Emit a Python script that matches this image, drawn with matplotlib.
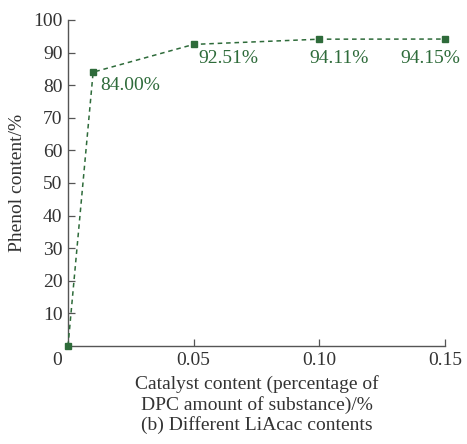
import matplotlib
matplotlib.use("Agg")
import matplotlib.pyplot as plt

catalyst = [0.0, 0.01, 0.05, 0.10, 0.15]
phenol = [0.0, 84.00, 92.51, 94.11, 94.15]
labels = ["", "84.00%", "92.51%", "94.11%", "94.15%"]
label_offsets = [(0, 0), (7, -13), (5, -14), (20, -19), (-15, -19)]
label_ha = ["left", "left", "left", "center", "center"]

green = "#2e6b3a"
textc = "#333333"
plt.rcParams["font.family"] = ["Liberation Serif", "DejaVu Serif"]
fs = 14

fig = plt.figure(figsize=(4.67, 4.44), dpi=100)
ax = fig.add_axes([0.1456, 0.2207, 0.8074, 0.7343])
ax.plot(catalyst, phenol, linestyle=(0, (3, 2.5)), color=green, lw=1.1,
        marker="s", markersize=5, markerfacecolor=green, markeredgecolor=green,
        clip_on=False, zorder=3)
for x, y, t, off, ha in zip(catalyst, phenol, labels, label_offsets, label_ha):
    if t:
        ax.annotate(t, (x, y), xytext=off, textcoords="offset pixels",
                    ha=ha, va="center", fontsize=fs, color=green)

ax.set_xlim(0, 0.15)
ax.set_ylim(0, 100)
ax.set_xticks([0.05, 0.10, 0.15])
ax.set_xticklabels(["0.05", "0.10", "0.15"])
ax.set_yticks(range(10, 101, 10))
ax.tick_params(direction="in", length=5, width=0.9, colors="#555555",
               labelcolor=textc, labelsize=fs, pad=4)
for s in ["top", "right"]:
    ax.spines[s].set_visible(False)
for s in ["left", "bottom"]:
    ax.spines[s].set_color("#555555")
    ax.spines[s].set_linewidth(1.0)
ax.annotate("0", (0, 0), xytext=(-11, -14), textcoords="offset pixels",
            ha="center", va="center", fontsize=fs, color=textc)
ax.set_ylabel("Phenol content/%", fontsize=fs, color=textc, labelpad=5)
ax.set_xlabel("Catalyst content (percentage of\nDPC amount of substance)/%\n(b) Different LiAcac contents",
              fontsize=fs, color=textc, labelpad=5, linespacing=1.16)
fig.savefig("out.png", dpi=100)
